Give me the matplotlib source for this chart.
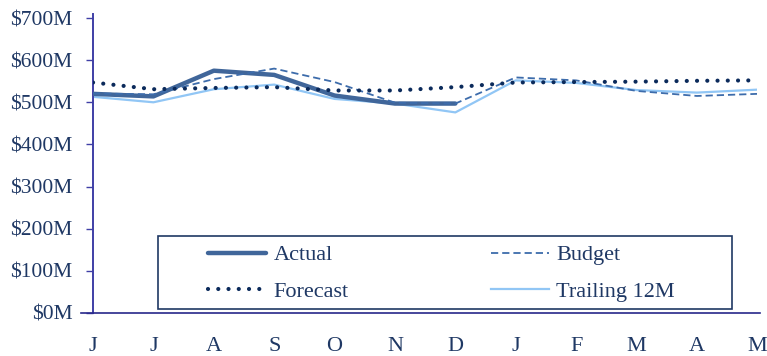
import numpy as np
import matplotlib
matplotlib.use('Agg')
import matplotlib.pyplot as plt
from matplotlib.patches import Rectangle
from matplotlib.ticker import FuncFormatter

months = ['J', 'J', 'A', 'S', 'O', 'N', 'D', 'J', 'F', 'M', 'A', 'M']

# values in $M
actual = [520, 514, 575, 565, 516, 497, 497]
budget = [521, 519, 555, 580, 548, 499, 497, 559, 552, 527, 515, 520]
forecast = [547, 531, 534, 536, 528, 528, 536, 547, 548, 549, 551, 552]
trailing = [513, 500, 531, 542, 508, 497, 476, 552, 546, 529, 523, 530]

navy = '#1f3864'
plt.rcParams['font.family'] = ['Liberation Serif', 'DejaVu Serif']

fig = plt.figure(figsize=(7.67, 3.56), dpi=100)
ax = fig.add_axes([0.1213, 0.1208, 0.866, 0.8286])

x = np.arange(len(months))
l_act, = ax.plot(x[:len(actual)], actual, color='#40669a', lw=3.2,
                 solid_capstyle='round', label='Actual', zorder=3)
l_bud, = ax.plot(x, budget, color='#3d6cab', lw=1.3, dashes=(4, 2.2),
                 label='Budget', zorder=4)
l_fc, = ax.plot(x, forecast, color='#0b2a5b', lw=3.0, linestyle=(0, (0.01, 2.45)),
                dash_capstyle='round', label='Forecast', zorder=5)
l_tr, = ax.plot(x, trailing, color='#91c6f5', lw=1.6, label='Trailing 12M', zorder=2)

ax.set_xlim(0, 11)
ax.set_ylim(0, 700)
ax.set_yticks(np.arange(0, 701, 100))
ax.yaxis.set_major_formatter(FuncFormatter(lambda v, p: f'${v:.0f}M'))
ax.set_xticks(x)
ax.set_xticklabels(months)

for s in ['top', 'right']:
    ax.spines[s].set_visible(False)
ax.spines['left'].set_color('#3f3fa6')
ax.spines['left'].set_linewidth(1.4)
ax.spines['left'].set_bounds(0, 710)
ax.spines['bottom'].set_color('#27278a')
ax.spines['bottom'].set_linewidth(1.2)
ax.spines['bottom'].set_bounds(-0.2, 11.05)

ax.tick_params(axis='y', length=5, width=1, color='#3f3fa6', labelcolor=navy,
               labelsize=15.5, pad=10)
ax.tick_params(axis='x', length=0, labelcolor=navy, labelsize=16, pad=17)

# column 1: Actual / Forecast, column 2: Budget / Trailing 12M
leg = ax.legend([l_act, l_fc, l_bud, l_tr],
                ['Actual', 'Forecast', 'Budget', 'Trailing 12M'],
                ncol=2, loc='center left', bbox_to_anchor=(0.143, 0.135),
                frameon=False, fontsize=16, handlelength=2.6, handletextpad=0.35,
                columnspacing=6.4, labelspacing=0.7)
for t in leg.get_texts():
    t.set_color(navy)

# legend border
ax.add_patch(Rectangle((0.0980, 0.0119), 0.864, 0.2476, transform=ax.transAxes,
                       fill=False, edgecolor=navy, lw=1.2, zorder=6))

fig.savefig('out.png', dpi=100)
